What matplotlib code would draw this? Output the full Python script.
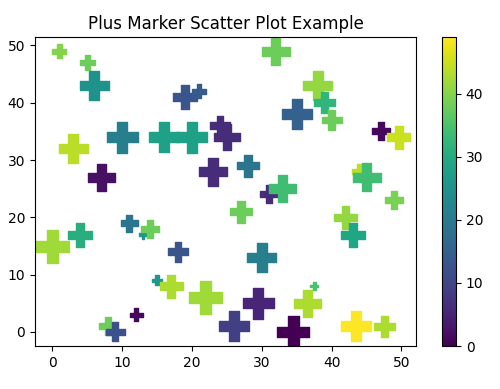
import numpy as np
import matplotlib
matplotlib.use('Agg')
import matplotlib.pyplot as plt

# 점 데이터
x = [1, 5, 6, 19, 21, 32, 38, 39, 40, 35, 47, 49.6, 3, 10, 16, 20,
     24, 25, 7, 23, 28, 31, 33, 27, 42, 43, 44, 45, 49, 0, 4, 11,
     13, 14, 18, 15, 17, 22, 8, 9, 12, 26, 29.5, 30, 34.5, 36.5, 37.5, 43.5, 47.5]
y = [49, 47, 43, 41, 42, 49, 43, 40, 37, 38, 35, 34, 32, 34, 34, 34,
     36, 34, 27, 28, 29, 24, 25, 21, 20, 17, 28, 27, 23, 15, 17, 19,
     17, 18, 14, 9, 8, 6, 1, 0, 3, 1, 5, 13, 0, 5, 8, 1, 1]
colors = [40, 38, 25, 13, 14, 38, 41, 32, 38, 15, 1, 45, 44, 21, 28, 28,
          6, 6, 2, 6, 19, 6, 34, 38, 41, 29, 44, 34, 39, 42, 31, 19,
          26, 38, 13, 26, 43, 42, 38, 12, 1, 9, 5, 21, 0, 43, 35, 49, 43]
# 마커 폭(px) -> 면적(pt^2)
widths = [14, 15, 29, 24, 14, 28, 29, 21, 20, 30, 18, 23, 29, 31, 30, 31,
          20, 26, 27, 28, 22, 18, 27, 22, 23, 24, 15, 28, 18, 33, 24, 17,
          8, 18, 20, 10, 23, 33, 18, 19, 13, 30, 31, 29, 32, 27, 8, 30, 21]
sizes = [(w * 0.72) ** 2 for w in widths]

fig = plt.figure(figsize=(5, 3.89), dpi=100)
ax = fig.add_axes([0.07, 0.1105, 0.762, 0.794])
cax = fig.add_axes([0.884, 0.1105, 0.028, 0.794])

sc = ax.scatter(x, y, s=sizes, c=colors, cmap='viridis', marker='P')
ax.set_title('Plus Marker Scatter Plot Example')
fig.colorbar(sc, cax=cax)

fig.savefig('out.png', dpi=100)
